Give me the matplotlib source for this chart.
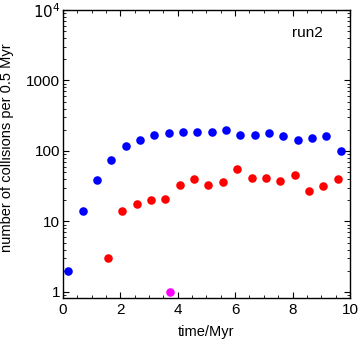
import numpy as np
import matplotlib
matplotlib.use("Agg")
import matplotlib.pyplot as plt
from matplotlib.ticker import FixedLocator, FixedFormatter, LogLocator, NullFormatter

plt.rcParams['font.family'] = ['Liberation Sans', 'DejaVu Sans']

# blue series: all collisions
t_blue = [0.18, 0.68, 1.18, 1.68, 2.18, 2.68, 3.18, 3.68, 4.18, 4.68,
          5.18, 5.68, 6.18, 6.68, 7.18, 7.68, 8.18, 8.68, 9.18, 9.7]
n_blue = [2, 14, 39, 75, 117, 145, 166, 179, 185, 185,
          185, 197, 167, 167, 179, 162, 145, 153, 162, 101]

# red series
t_red = [1.57, 2.07, 2.57, 3.07, 3.57, 4.07, 4.57, 5.07, 5.57, 6.07,
         6.57, 7.07, 7.57, 8.07, 8.57, 9.07, 9.6]
n_red = [3, 14, 17.5, 20.5, 21, 32.5, 39.5, 32.5, 36, 55,
         41, 41, 37, 45, 27.5, 31.5, 39.5]

# magenta single point
t_mag = [3.73]
n_mag = [1]

fig = plt.figure(figsize=(3.6, 3.46), dpi=100)
ax = fig.add_axes([0.175, 0.1396, 0.797, 0.8315])

ax.scatter(t_blue, n_blue, s=38, color='#0000ff', linewidths=0, zorder=3)
ax.scatter(t_red, n_red, s=38, color='#ff0000', linewidths=0, zorder=3)
ax.scatter(t_mag, n_mag, s=38, color='#ff00ff', linewidths=0, zorder=3)

ax.set_yscale('log')
ax.set_xlim(0, 10)
ax.set_ylim(0.83, 1e4)

ax.xaxis.set_major_locator(FixedLocator([0, 2, 4, 6, 8, 10]))
ax.xaxis.set_minor_locator(FixedLocator(np.arange(0, 10.01, 0.5)))
ax.yaxis.set_major_locator(FixedLocator([1, 10, 100, 1000, 10000]))
ax.yaxis.set_major_formatter(FixedFormatter(['1', '10', '100', '1000', r'$10^4$']))
ax.yaxis.set_minor_locator(LogLocator(base=10, subs=np.arange(2, 10)))
ax.yaxis.set_minor_formatter(NullFormatter())

ax.tick_params(which='both', direction='in', top=True, right=True, labelsize=11)
ax.tick_params(which='major', length=4, width=0.8)
ax.tick_params(axis='y', which='major', pad=2)
ax.tick_params(which='minor', length=2, width=0.6)
for s in ax.spines.values():
    s.set_linewidth(1.0)

ax.set_xlabel("time/Myr", fontsize=10.5, labelpad=6)
ax.set_ylabel("number of collisions per 0.5 Myr", fontsize=10.5)
ax.yaxis.set_label_coords(-0.17, 0.52)
ax.text(0.852, 0.92, "run2", transform=ax.transAxes, fontsize=11, ha='center', va='center')

fig.savefig("out.png", dpi=100)
